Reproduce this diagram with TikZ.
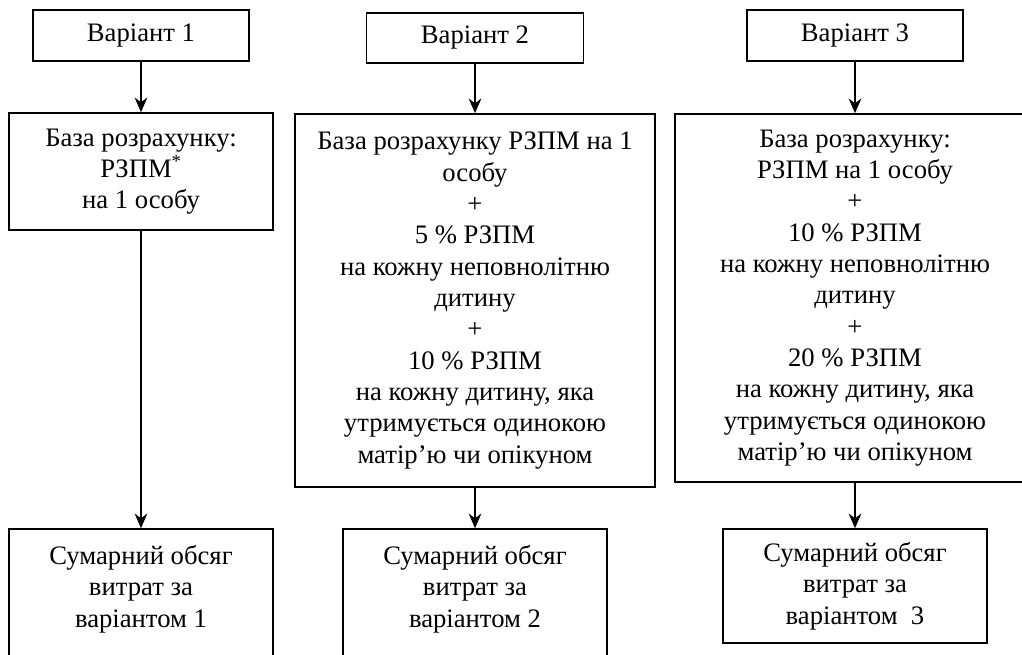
\documentclass[tikz,border=0pt]{standalone}
\usepackage{fontspec}
\setmainfont{Liberation Serif}
\usetikzlibrary{arrows.meta}
\begin{document}
\begin{tikzpicture}[x=0.75pt,y=-0.75pt,
        frame/.style={draw,line width=1.2pt,align=center,inner sep=0pt,font=\fontsize{20}{23.5}\selectfont},
        varbox/.style={frame,minimum width=162pt,minimum height=38.25pt},
        sumbox/.style={frame,minimum width=198pt},
        link/.style={line width=1.2pt,-{Stealth[length=11pt,width=9.5pt]}}]
    \useasboundingbox (0,0) rectangle (1022,655);
    \clip (0,0) rectangle (1022,655);
    % variants
    \node[varbox] (var1) at (141,35.5) {Варіант 1};
    \node[varbox,minimum width=162.75pt,minimum height=37.5pt] (var2) at (475,38) {Варіант 2};
    \node[varbox] (var3) at (855,35.5) {Варіант 3};
    % bases
    \node[frame,minimum width=198pt,minimum height=87.75pt] (base1) at (141,171.5)
        {База розрахунку:\\РЗПМ\textsuperscript{*}\\на 1 особу};
    \node[frame,minimum width=270pt,minimum height=279.75pt] (base2) at (475,300.5)
        {База розрахунку РЗПМ на 1\\особу\\+\\5~\% РЗПМ\\на кожну неповнолітню\\дитину\\+\\10~\% РЗПМ\\на кожну дитину, яка\\утримується одинокою\\матір’ю чи опікуном};
    \node[frame,minimum width=270pt,minimum height=276pt] (base3) at (855,298)
        {База розрахунку:\\РЗПМ на 1 особу\\+\\10~\% РЗПМ\\на кожну неповнолітню\\дитину\\+\\20~\% РЗПМ\\на кожну дитину, яка\\утримується одинокою\\матір’ю чи опікуном};
    % totals
    \node[sumbox,minimum height=105pt] (sum1) at (141,599)
        {Сумарний обсяг\\витрат за\\варіантом 1\\[-4.5pt]\mbox{}};
    \node[sumbox,minimum height=105pt] (sum2) at (475,599)
        {Сумарний обсяг\\витрат за\\варіантом 2\\[-4.5pt]\mbox{}};
    \node[sumbox,minimum height=85.5pt] (sum3) at (855,586)
        {Сумарний обсяг\\витрат за\\варіантом~~3};
    % arrows
    \draw[link] (var1.south) -- (base1.north);
    \draw[link] (var2.south) -- (base2.north);
    \draw[link] (var3.south) -- (base3.north);
    \draw[link] (base1.south) -- (sum1.north);
    \draw[link] (base2.south) -- (sum2.north);
    \draw[link] (base3.south) -- (sum3.north);
\end{tikzpicture}
\end{document}
